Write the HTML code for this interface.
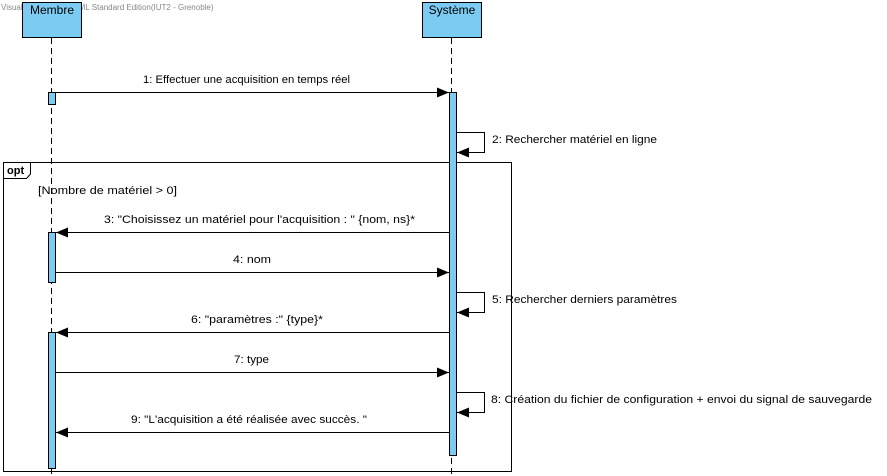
<!DOCTYPE html>
<html><head><meta charset="utf-8"><style>html,body{margin:0;padding:0;background:#fff}svg{display:block}text{font-family:"Liberation Sans",sans-serif;font-size:11px;fill:#000}</style></head>
<body>
<svg width="887" height="476" xmlns="http://www.w3.org/2000/svg">
<defs><marker id="a" markerWidth="12" markerHeight="10" refX="12" refY="5" orient="auto" markerUnits="userSpaceOnUse"><path d="M0,0 L12,5 L0,10 Z" fill="#000"/></marker></defs>
<text x="1" y="10" style="font-size:8px;fill:#888">Visual Paradigm for UML Standard Edition(IUT2 - Grenoble)</text>
<rect x="22.5" y="2.5" width="59" height="35" fill="#7ccbf2" stroke="#000"/>
<text x="52" y="14" text-anchor="middle" style="font-size:12px">Membre</text>
<rect x="422.5" y="2.5" width="59" height="35" fill="#7ccbf2" stroke="#000"/>
<text x="452" y="14" text-anchor="middle" style="font-size:12px">Système</text>
<line x1="51.5" y1="38" x2="51.5" y2="476" stroke="#000" stroke-dasharray="6,4"/>
<line x1="451.5" y1="38" x2="451.5" y2="476" stroke="#000" stroke-dasharray="6,4"/>
<rect x="3.5" y="162.5" width="508" height="309" fill="none" stroke="#000"/>
<path d="M3.5,178.5 H26.5 L30.5,174 V162.5" fill="none" stroke="#000"/>
<text x="7" y="174" style="font-weight:bold">opt</text>
<text x="38" y="194" textLength="139" lengthAdjust="spacingAndGlyphs">[Nombre de matériel &gt; 0]</text>
<rect x="48.5" y="92.5" width="7" height="12" fill="#7ccbf2" stroke="#000"/>
<rect x="48.5" y="232.5" width="7" height="50" fill="#7ccbf2" stroke="#000"/>
<rect x="48.5" y="332.5" width="7" height="136" fill="#7ccbf2" stroke="#000"/>
<rect x="449.5" y="92.5" width="7" height="363" fill="#7ccbf2" stroke="#000"/>
<g stroke="#000" fill="none">
<line x1="56" y1="92.5" x2="449" y2="92.5" marker-end="url(#a)"/>
<polyline points="457,132.5 484.5,132.5 484.5,152.5 457,152.5" marker-end="url(#a)"/>
<line x1="449" y1="232.5" x2="56" y2="232.5" marker-end="url(#a)"/>
<line x1="56" y1="272.5" x2="449" y2="272.5" marker-end="url(#a)"/>
<polyline points="457,292.5 484.5,292.5 484.5,312.5 457,312.5" marker-end="url(#a)"/>
<line x1="449" y1="332.5" x2="56" y2="332.5" marker-end="url(#a)"/>
<line x1="56" y1="372.5" x2="449" y2="372.5" marker-end="url(#a)"/>
<polyline points="457,392.5 484.5,392.5 484.5,412.5 457,412.5" marker-end="url(#a)"/>
<line x1="449" y1="432.5" x2="56" y2="432.5" marker-end="url(#a)"/>
</g>
<text x="143" y="83" textLength="207" lengthAdjust="spacingAndGlyphs">1: Effectuer une acquisition en temps réel</text>
<text x="492" y="143" textLength="165" lengthAdjust="spacingAndGlyphs">2: Rechercher matériel en ligne</text>
<text x="104" y="223" textLength="311" lengthAdjust="spacingAndGlyphs">3: "Choisissez un matériel pour l'acquisition : " {nom, ns}*</text>
<text x="233" y="263" textLength="38" lengthAdjust="spacingAndGlyphs">4: nom</text>
<text x="492" y="303" textLength="185" lengthAdjust="spacingAndGlyphs">5: Rechercher derniers paramètres</text>
<text x="191" y="323" textLength="132" lengthAdjust="spacingAndGlyphs">6: "paramètres :" {type}*</text>
<text x="234" y="363" textLength="35" lengthAdjust="spacingAndGlyphs">7: type</text>
<text x="491" y="403" textLength="381" lengthAdjust="spacingAndGlyphs">8: Création du fichier de configuration + envoi du signal de sauvegarde</text>
<text x="131" y="423" textLength="236" lengthAdjust="spacingAndGlyphs">9: "L'acquisition a été réalisée avec succès. "</text>
</svg>
</body></html>
